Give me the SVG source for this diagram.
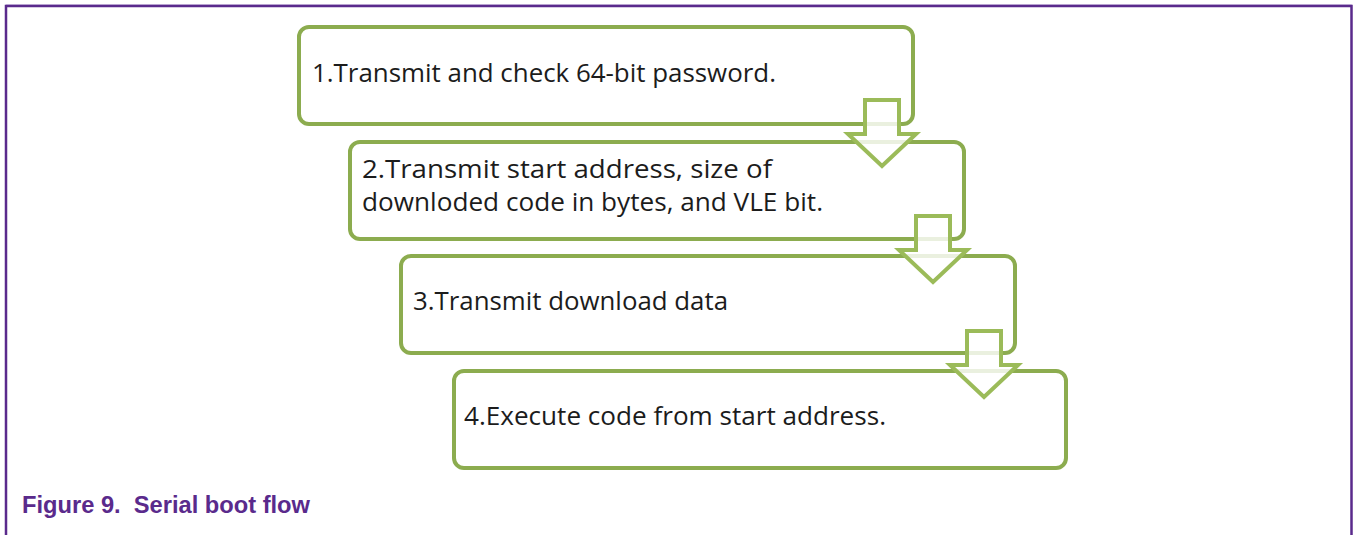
<svg xmlns="http://www.w3.org/2000/svg" width="1353" height="535" viewBox="0 0 1353 535">
  <style>
    .box { fill: #ffffff; stroke: #8cac4f; stroke-width: 4; }
    .lbl { font-family: "Open Sans", "Noto Sans", sans-serif; font-size: 25px; fill: #1c1c1c; }
    .arrow { fill: #ffffff; fill-opacity: 0.82; stroke: #9bbb59; stroke-width: 4; stroke-linejoin: miter; }
    .caption { font-family: "Liberation Sans", Arial, sans-serif; font-weight: bold; font-size: 23px; fill: #5a2a8c; white-space: pre; }
  </style>
  <defs>
    <!-- block arrow pointing down, origin at top centre of the shaft -->
    <path id="down" d="M-17,0 H17 V34 H34 L0,66 L-34,34 H-17 Z"/>
  </defs>

  <rect width="1353" height="535" fill="#ffffff"/>

  <!-- figure frame (open at the bottom) -->
  <path d="M6,536 V6 H1351.5 V536" fill="none" stroke="#d9cce8" stroke-width="1" transform="translate(0,-1.5)"/>
  <path d="M6,536 V6 H1351.5 V536" fill="none" stroke="#5a2a8c" stroke-width="2.5"/>

  <g id="step1">
    <rect class="box" x="299" y="27" width="614" height="97" rx="10"/>
    <text class="lbl" x="312" y="82" textLength="464" lengthAdjust="spacingAndGlyphs">1.Transmit and check 64-bit password.</text>
  </g>

  <g id="step2">
    <rect class="box" x="350" y="142" width="614" height="97" rx="10"/>
    <text class="lbl" x="362" y="178" textLength="410" lengthAdjust="spacingAndGlyphs">2.Transmit start address, size of</text>
    <text class="lbl" x="362" y="211" textLength="461" lengthAdjust="spacingAndGlyphs">downloded code in bytes, and VLE bit.</text>
  </g>

  <g id="step3">
    <rect class="box" x="401" y="256" width="614" height="97" rx="10"/>
    <text class="lbl" x="413" y="310" textLength="315" lengthAdjust="spacingAndGlyphs">3.Transmit download data</text>
  </g>

  <g id="step4">
    <rect class="box" x="454" y="371" width="612" height="97" rx="10"/>
    <text class="lbl" x="464" y="425" textLength="422" lengthAdjust="spacingAndGlyphs">4.Execute code from start address.</text>
  </g>

  <g id="connectors">
    <use href="#down" class="arrow" x="882" y="100"/>
    <use href="#down" class="arrow" x="933" y="216"/>
    <use href="#down" class="arrow" x="984" y="331"/>
  </g>

  <text class="caption" x="22" y="513" textLength="288" lengthAdjust="spacingAndGlyphs" xml:space="preserve">Figure 9.  Serial boot flow</text>
</svg>
